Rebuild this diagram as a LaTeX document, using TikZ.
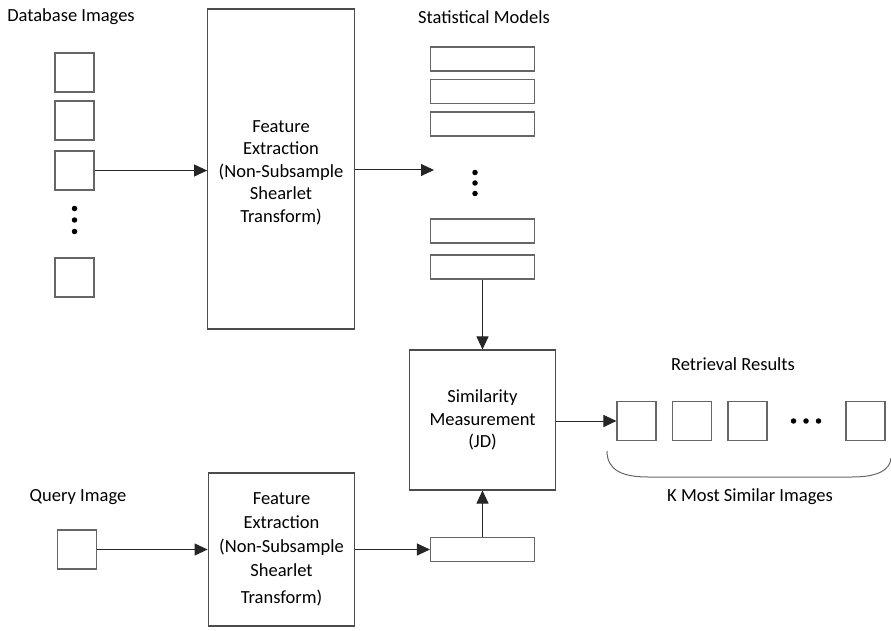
\documentclass[tikz,border=0pt]{standalone}
\usepackage{fontspec}
\setmainfont{Carlito}
\usetikzlibrary{shapes.geometric, arrows, arrows.meta, positioning}
\tikzstyle{imgbox} = [rectangle, minimum width=39pt, minimum height=39pt, inner sep=0pt, draw=black!60, line width=1.1pt]
\tikzstyle{modelbox} = [rectangle, minimum width=104pt, minimum height=24pt, inner sep=0pt, draw=black!60, line width=1.1pt]
\tikzstyle{process} = [rectangle, minimum width=143pt, text width=140pt, align=center, draw=black!70, line width=1.1pt]
\tikzstyle{title} = [text centered, inner sep=0pt]
\tikzstyle{dot} = [circle, fill=black, inner sep=0pt, minimum size=5.5pt]
\tikzstyle{arrow} = [line width=1pt, draw=black!85, -{Triangle[length=13pt,width=12pt]}]

\begin{document}
\begin{tikzpicture}[x=1pt, y=-1pt, node distance=48pt, font=\fontsize{18.5}{24}\selectfont]

            \useasboundingbox (0,0) rectangle (891,631);

            % database side
            \node (dbtitle) [title] at (71,17) {Database Images};
            \node (db1) [imgbox] at (74.5,72.5) {};
            \node (db2) [imgbox, below of=db1] {};
            \node (db3) [imgbox, below of=db2, yshift=-2pt] {};
            \node (dbdot2) [dot] at (74.5,220) {};
            \node (dbdot1) [dot, above of=dbdot2, node distance=11.5pt] {};
            \node (dbdot3) [dot, below of=dbdot2, node distance=11.5pt] {};
            \node (db5) [imgbox] at (74.5,277.5) {};

            \node (fe1) [process, minimum height=320pt, font=\fontsize{18.5}{22.5}\selectfont] at (281,169) {\\[-3pt]Feature\\ Extraction\\ (Non-Subsample\\ Shearlet\\ Transform)};

            % statistical models
            \node (smtitle) [title] at (484,17) {Statistical Models};
            \node (sm1) [modelbox] at (482.5,59) {};
            \node (sm2) [modelbox, below of=sm1, node distance=32.5pt] {};
            \node (sm3) [modelbox, below of=sm2, node distance=32.5pt] {};
            \coordinate (smin) at (434,170);
            \node (smdot2) [dot] at (475,183) {};
            \node (smdot1) [dot, above of=smdot2, node distance=10.5pt] {};
            \node (smdot3) [dot, below of=smdot2, node distance=10.5pt] {};
            \node (sm4) [modelbox] at (482.5,231) {};
            \node (sm5) [modelbox, below of=sm4, node distance=36pt] {};

            \node (sim) [process, minimum height=140pt, font=\fontsize{18.5}{22.5}\selectfont] at (482.5,420) {Similarity\\ Measurement\\ (JD)};

            % retrieval results
            \node (rrtitle) [title] at (733,364) {Retrieval Results};
            \node (r1) [imgbox] at (636.5,421) {};
            \node (r2) [imgbox, right of=r1, node distance=55.5pt] {};
            \node (r3) [imgbox, right of=r2, node distance=55.5pt] {};
            \node (rdot2) [dot] at (806,421) {};
            \node (rdot1) [dot, left of=rdot2, node distance=12.5pt] {};
            \node (rdot3) [dot, right of=rdot2, node distance=12.5pt] {};
            \node (r5) [imgbox] at (865.5,421) {};
            \node (ktitle) [title] at (750,497) {K Most Similar Images};

            % query side
            \node (qtitle) [title] at (78,497) {Query Image};
            \node (q1) [imgbox] at (77,549.5) {};
            \node (fe2) [process, minimum height=153pt] at (281.5,549.5) {Feature\\ Extraction\\ (Non-Subsample\\ Shearlet\\[3pt] Transform)};
            \node (qm) [modelbox] at (482.5,549.5) {};


            \draw [arrow] (db3.east) -- (db3.east -| fe1.west);
            \draw [arrow] (fe1.east |- smin) -- (smin);
            \draw [arrow] (sm5.south) -- (sim.north);
            \draw [arrow] (sim.east |- r1) -- (r1.west);
            \draw [arrow] (q1.east) -- (q1.east -| fe2.west);
            \draw [arrow] (fe2.east |- qm) -- (qm.west);
            \draw [arrow] (qm.north) -- (sim.south);

            % brace under the results
            \draw [line width=1pt, black!60] (607,451) .. controls (607,470) and (622,477) .. (648,477) -- (852,477) .. controls (878,477) and (890,470) .. (891,458);

\end{tikzpicture}
\end{document}
